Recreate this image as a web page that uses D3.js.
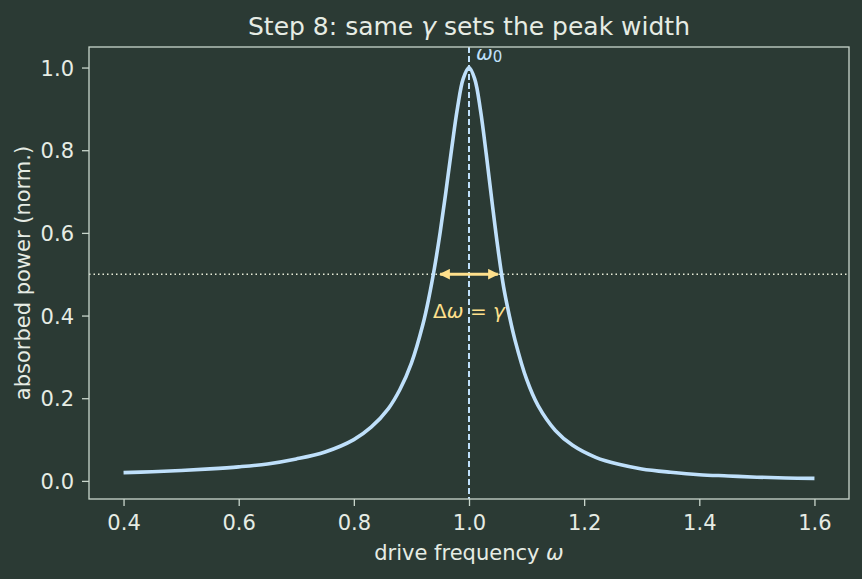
<!DOCTYPE html>
<html>
<head>
<meta charset="utf-8">
<script src="https://cdn.jsdelivr.net/npm/d3@7"></script>
<style>
  html, body { margin: 0; padding: 0; background: #2b3a34; }
  svg { display: block; font-family: "DejaVu Sans", sans-serif; }
</style>
</head>
<body>
<svg id="chart" width="862" height="579"></svg>
<script>
// drive frequency samples and normalized absorbed power
const omega = [0.40, 0.45, 0.50, 0.55, 0.60, 0.65, 0.70, 0.75, 0.80, 0.83, 0.86, 0.88,
  0.90, 0.92, 0.93, 0.94, 0.95, 0.96, 0.97, 0.98, 0.99, 1.00, 1.01, 1.02, 1.03, 1.04,
  1.05, 1.06, 1.07, 1.08, 1.10, 1.12, 1.15, 1.18, 1.22, 1.26, 1.30, 1.35, 1.40, 1.45,
  1.50, 1.55, 1.60];
const power = [0.020, 0.022, 0.025, 0.029, 0.034, 0.041, 0.053, 0.070, 0.100, 0.130, 0.175, 0.221,
  0.285, 0.379, 0.441, 0.515, 0.602, 0.701, 0.805, 0.902, 0.973, 1.000, 0.972, 0.896, 0.790, 0.675,
  0.565, 0.470, 0.400, 0.340, 0.246, 0.182, 0.122, 0.086, 0.057, 0.040, 0.029, 0.021, 0.015, 0.012,
  0.009, 0.007, 0.006];
const xTicks = [0.4, 0.6, 0.8, 1.0, 1.2, 1.4, 1.6];
const yTicks = [0.0, 0.2, 0.4, 0.6, 0.8, 1.0];
const omega0 = 1.0;
const halfMax = 0.5;
const widthEnds = [0.943, 1.057];   // arrow ends of the FWHM marker

const W = 862, H = 579;
const m = { left: 89, right: 849, top: 47, bottom: 499 };
const bg = '#2b3a34', fg = '#e6ece4', spine = '#c9d6cc';
const curveCol = '#bfe0fb', accent = '#ffe08c';

const svg = d3.select('#chart');
svg.append('rect').attr('width', W).attr('height', H).attr('fill', bg);

const x = d3.scaleLinear().domain([0.34, 1.66]).range([m.left, m.right]);
const y = d3.scaleLinear().domain([-0.0438, 1.0497]).range([m.bottom, m.top]);

// axes
const xAxis = svg.append('g').attr('transform', `translate(0,${m.bottom})`)
  .call(d3.axisBottom(x).tickValues(xTicks).tickFormat(d3.format('.1f')).tickSizeOuter(0).tickSize(7).tickPadding(5));
const yAxis = svg.append('g').attr('transform', `translate(${m.left},0)`)
  .call(d3.axisLeft(y).tickValues(yTicks).tickFormat(d3.format('.1f')).tickSizeOuter(0).tickSize(7).tickPadding(8));
[xAxis, yAxis].forEach(g => {
  g.select('.domain').remove();
  g.selectAll('line').attr('stroke', spine).attr('stroke-width', 1.3);
  g.selectAll('text').attr('fill', fg).attr('font-size', 21).attr('font-family', 'DejaVu Sans');
});
xAxis.selectAll('text').attr('dy', '0.92em');
yAxis.selectAll('text').attr('dy', '0.36em');

// reference lines
svg.append('line')
  .attr('x1', m.left).attr('x2', m.right).attr('y1', y(halfMax)).attr('y2', y(halfMax))
  .attr('stroke', '#e8ecd8').attr('stroke-width', 1.5).attr('stroke-dasharray', '1.5,3');
svg.append('line')
  .attr('x1', x(omega0)).attr('x2', x(omega0)).attr('y1', m.top).attr('y2', m.bottom)
  .attr('stroke', curveCol).attr('stroke-width', 2).attr('stroke-dasharray', '6,3');

// resonance curve
const pts = omega.map((w, i) => [w, power[i]]);
svg.append('path').datum(pts)
  .attr('fill', 'none').attr('stroke', curveCol).attr('stroke-width', 3.6)
  .attr('stroke-linejoin', 'round').attr('stroke-linecap', 'butt')
  .attr('d', d3.line().x(d => x(d[0])).y(d => y(d[1])).curve(d3.curveCatmullRom.alpha(0.5)));

// FWHM arrow
const defs = svg.append('defs');
defs.append('marker').attr('id', 'head').attr('viewBox', '0 0 10 10')
  .attr('refX', 9).attr('refY', 5).attr('markerWidth', 4.2).attr('markerHeight', 3.6)
  .attr('markerUnits', 'strokeWidth').attr('orient', 'auto-start-reverse')
  .append('path').attr('d', 'M0,0 L10,5 L0,10 Z').attr('fill', accent);
svg.append('line')
  .attr('x1', x(widthEnds[0]) + 4).attr('x2', x(widthEnds[1]) - 4)
  .attr('y1', y(halfMax)).attr('y2', y(halfMax))
  .attr('stroke', accent).attr('stroke-width', 3)
  .attr('marker-start', 'url(#head)').attr('marker-end', 'url(#head)');

const lab = svg.append('text').attr('x', x(omega0)).attr('y', y(0.395))
  .attr('text-anchor', 'middle').attr('fill', accent).attr('font-size', 20);
lab.append('tspan').text('Δ');
lab.append('tspan').attr('font-style', 'italic').text('ω');
lab.append('tspan').text(' = ');
lab.append('tspan').attr('font-style', 'italic').text('γ');

const w0 = svg.append('text').attr('x', x(omega0) + 7).attr('y', y(1.018))
  .attr('fill', curveCol).attr('font-size', 20);
w0.append('tspan').attr('font-style', 'italic').text('ω');
w0.append('tspan').attr('font-size', 15).attr('dy', 2).text('0');

// spines
svg.append('rect').attr('x', m.left).attr('y', m.top)
  .attr('width', m.right - m.left).attr('height', m.bottom - m.top)
  .attr('fill', 'none').attr('stroke', spine).attr('stroke-width', 1.3);

// titles
const title = svg.append('text').attr('x', (m.left + m.right) / 2).attr('y', 35)
  .attr('text-anchor', 'middle').attr('fill', fg).attr('font-size', 25);
title.append('tspan').text('Step 8: same ');
title.append('tspan').attr('font-style', 'italic').text('γ');
title.append('tspan').text(' sets the peak width');

const xl = svg.append('text').attr('x', (m.left + m.right) / 2).attr('y', 560)
  .attr('text-anchor', 'middle').attr('fill', fg).attr('font-size', 21);
xl.append('tspan').text('drive frequency ');
xl.append('tspan').attr('font-style', 'italic').text('ω');

svg.append('text')
  .attr('transform', `translate(30,${(m.top + m.bottom) / 2}) rotate(-90)`)
  .attr('text-anchor', 'middle').attr('fill', fg).attr('font-size', 21)
  .text('absorbed power (norm.)');
</script>
</body>
</html>
